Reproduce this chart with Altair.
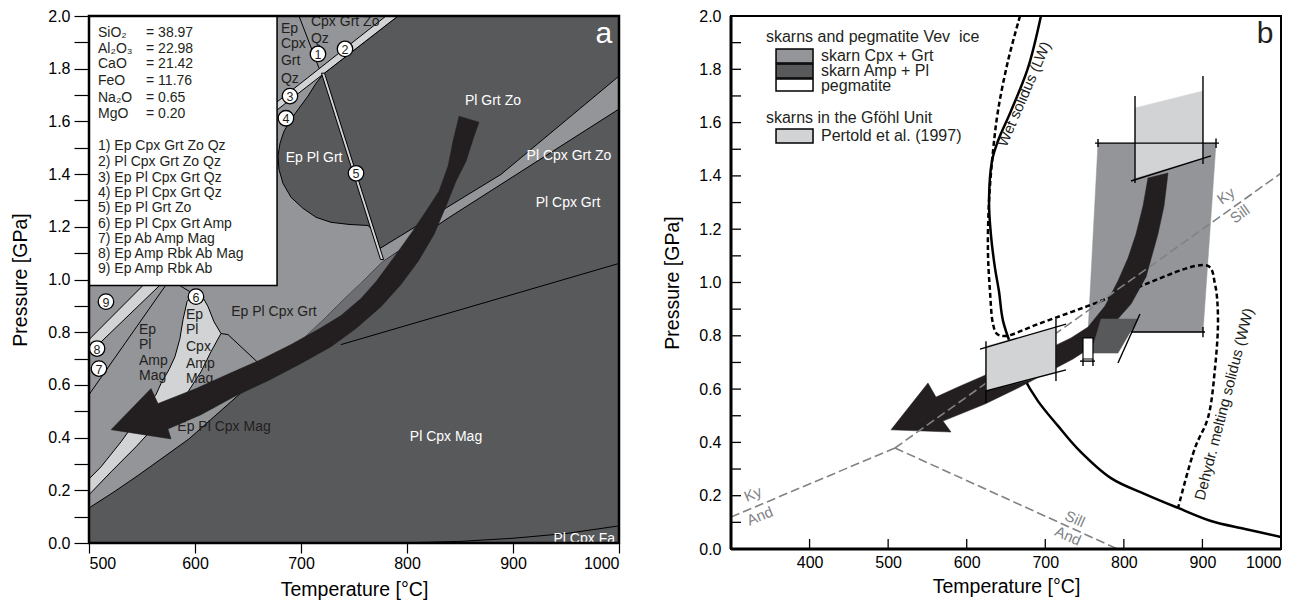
import altair as alt
import pandas as pd

FONT = "Liberation Sans"
DARK = "#58595b"
MED = "#939598"
LIGHT = "#d1d3d4"
STRIP = "#6d6e71"
INK = "#231f20"
GREYLINE = "#808285"

# ================= panel a : phase diagram (T [°C], P [GPa]) =================
a_medium = [(500, 0.133), (523.6, 0.194), (547.2, 0.259), (570.8, 0.327), (594.3, 0.395),
            (617.9, 0.479), (641.5, 0.563), (665.1, 0.650), (688.7, 0.738), (702.8, 0.776),
            (777.4, 1.068), (841.5, 1.240), (1000, 1.647), (1000, 1.772), (888.7, 1.399),
            (774.5, 1.118), (720.8, 1.779), (791.5, 2.0), (500, 2.0)]
a_ep_pl_grt = [(720.8, 1.779), (714.2, 1.745), (706.6, 1.696), (698.1, 1.650), (690.6, 1.608),
               (684, 1.563), (680.2, 1.517), (678.3, 1.468), (679.2, 1.418), (683, 1.365),
               (690.6, 1.312), (701.9, 1.270), (714.2, 1.236), (728.3, 1.217), (745.3, 1.209),
               (763.2, 1.205), (768.9, 1.183)]
a_strip = [(702.8, 0.776), (777.4, 1.068), (799, 1.122), (775.5, 0.954), (737.7, 0.802)]
a_band23 = [(667, 1.641), (780.2, 2.0), (791.5, 2.0), (667, 1.611)]
a_field5 = [(719.3, 1.783), (722.2, 1.783), (777.9, 1.076), (775.0, 1.076)]
a_band8 = [(500, 0.772), (558.5, 1.008), (574.5, 1.008), (500, 0.719)]
a_amp_mag = [(598.1, 0.947), (592.5, 0.916), (588.7, 0.848), (585.8, 0.776), (581.1, 0.707),
             (575.5, 0.658), (567.9, 0.605), (563.2, 0.563), (549.1, 0.490), (530.2, 0.384),
             (511.3, 0.289), (500, 0.243), (500, 0.183), (520.8, 0.270), (544.3, 0.365),
             (567.9, 0.468), (593.4, 0.574), (605.7, 0.650), (615.1, 0.726), (624.5, 0.795),
             (617.9, 0.840), (612.3, 0.897), (607.5, 0.932)]
a_line1 = [(717, 1.802), (698.1, 2.0)]
a_line7 = [(500, 0.563), (573.6, 0.985)]
a_line6 = [(584, 0.981), (598.1, 0.947)]
a_line_eppl = [(624.5, 0.795), (631.1, 0.791), (660.4, 0.681), (667, 0.655)]
a_line_grtmag = [(737.7, 0.753), (1000, 1.061)]
a_line_fa = [(790, 0.0), (850, 0.006), (900, 0.018), (950, 0.036), (1000, 0.065)]
a_arrow = [(849.1, 1.620), (843.4, 1.525), (838.7, 1.430), (830.2, 1.335), (817.9, 1.259),
           (803.8, 1.175), (787.7, 1.084), (770.8, 0.992), (756.6, 0.928), (737.7, 0.863),
           (718.9, 0.817), (690.6, 0.753), (662.3, 0.696), (634, 0.646), (600.9, 0.586),
           (565.1, 0.529), (558.5, 0.586), (520.8, 0.430), (577.4, 0.395), (574.5, 0.433),
           (605.7, 0.487), (636.8, 0.555), (668.9, 0.616), (700, 0.681), (728.3, 0.745),
           (751.9, 0.814), (775.5, 0.897), (794.3, 0.981), (810.4, 1.068), (825.5, 1.171),
           (836.8, 1.278), (846.2, 1.373), (855.7, 1.449), (862.3, 1.532), (867.9, 1.597)]

a_box = {"T0": [500], "T1": [677.4], "P0": [0.977], "P1": [2.0]}
a_box_names = ["SiO₂", "Al₂O₃", "CaO", "FeO", "Na₂O", "MgO"]
a_box_values = ["= 38.97", "= 22.98", "= 21.42", "= 11.76", "= 0.65", "= 0.20"]
a_box_P = [1.935, 1.875, 1.817, 1.753, 1.688, 1.627]
a_key = ["1) Ep Cpx Grt Zo Qz", "2) Pl Cpx Grt Zo Qz", "3) Ep Pl Cpx Grt Qz",
         "4) Ep Pl Cpx Grt Qz", "5) Ep Pl Grt Zo", "6) Ep Pl Cpx Grt Amp",
         "7) Ep Ab Amp Mag", "8) Ep Amp Rbk Ab Mag", "9) Ep Amp Rbk Ab"]
a_key_P = [1.506, 1.445, 1.384, 1.327, 1.270, 1.209, 1.152, 1.095, 1.038]

a_white_lab = ["Pl Grt Zo", "Ep Pl Grt", "Pl Cpx Grt Zo", "Pl Cpx Grt", "Pl Cpx Mag"]
a_white_T = [881.1, 712.3, 952.8, 951.9, 836.8]
a_white_P = [1.677, 1.460, 1.468, 1.289, 0.403]
a_dark_lab = ["Ep Pl Cpx Grt", "Ep Pl Cpx Mag"]
a_dark_T = [674.5, 627.4]
a_dark_P = [0.878, 0.441]
a_stack_lab = ["Ep", "Pl", "Amp", "Mag", "Ep", "Pl", "Cpx", "Amp", "Mag",
               "Ep", "Cpx", "Grt", "Qz", "Cpx Grt Zo", "Qz"]
a_stack_T = [547.2] * 4 + [591.5] * 5 + [681.1] * 4 + [709.4] * 2
a_stack_P = [0.810, 0.753, 0.692, 0.635, 0.867, 0.810, 0.745, 0.681, 0.624,
             1.951, 1.894, 1.829, 1.760, 1.977, 1.913]
a_circ_lab = ["1", "2", "3", "4", "5", "6", "7", "8", "9"]
a_circ_T = [716, 741.5, 689.6, 685.8, 751.9, 600.9, 509.4, 507.6, 516]
a_circ_P = [1.856, 1.875, 1.696, 1.612, 1.403, 0.935, 0.662, 0.738, 0.916]

# ================= panel b =================
b_greybox = [(767.1, 1.523), (917.3, 1.523), (900.7, 0.814), (754.4, 0.814)]
b_lightbox1 = [(814.2, 1.655), (900.7, 1.719), (900.7, 1.467), (814.2, 1.392)]
b_lightbox2 = [(624.5, 0.762), (713.6, 0.829), (713.6, 0.660), (624.5, 0.593)]
b_darkbox = [(770.9, 0.863), (818, 0.863), (792.5, 0.735), (758.2, 0.735)]
b_whitebox = [(748, 0.792), (760.7, 0.792), (760.7, 0.713), (748, 0.713)]
b_box_lines = [
    [(763.3, 1.523), (921.1, 1.523)], [(767.1, 1.508), (767.1, 1.538)], [(917.3, 1.505), (917.3, 1.540)],
    [(809.1, 0.814), (903.3, 0.814)], [(900.7, 0.795), (900.7, 0.833)],
    [(814.2, 1.700), (814.2, 1.373)], [(900.7, 1.775), (900.7, 1.445)], [(809.1, 1.381), (910.9, 1.475)],
    [(616.9, 0.750), (726.4, 0.844)], [(624.5, 0.593), (726.4, 0.672)],
    [(624.5, 0.780), (624.5, 0.548)], [(713.6, 0.863), (713.6, 0.630)],
    [(820.5, 0.882), (792.5, 0.698)],
    [(748, 0.713), (748, 0.687)], [(760.7, 0.713), (760.7, 0.687)], [(744.2, 0.705), (763.3, 0.705)],
]
b_wet = [(694.5, 2.0), (678, 1.805), (656.4, 1.644), (639.8, 1.531), (632.2, 1.456), (628.4, 1.306),
         (630.8, 1.180), (636, 1.054), (641, 0.968), (646.2, 0.856), (659, 0.743), (671.6, 0.649),
         (690.7, 0.555), (716.2, 0.462), (741.6, 0.375), (783.6, 0.266), (826.9, 0.206),
         (869, 0.154), (910.9, 0.105), (954.2, 0.075), (1000, 0.045)]
b_dashed = [(667.8, 2.0), (652.5, 1.831), (639.8, 1.644), (633.5, 1.493), (628.4, 1.306),
            (627, 1.118), (629.6, 0.968), (633.5, 0.844), (638.5, 0.807), (648.7, 0.799),
            (690.7, 0.844), (754.4, 0.912), (814.2, 0.979), (907, 1.062), (916, 0.994),
            (919.8, 0.867), (916, 0.679), (907, 0.492), (890.5, 0.379), (869, 0.154)]
b_ky_and = [(300, 0.12), (508.7, 0.379)]
b_and_sill = [(508.7, 0.379), (792, 0.0)]
b_ky_sill = [(508.7, 0.379), (1000, 1.41)]
b_arrow = [(830.7, 1.392), (824.4, 1.287), (815.5, 1.182), (805.3, 1.092), (792.5, 1.006),
           (776, 0.912), (754.4, 0.833), (732.7, 0.792), (713.6, 0.765), (665.3, 0.713),
           (627.1, 0.657), (588.9, 0.608), (560.9, 0.570), (550.7, 0.623), (503.6, 0.447),
           (580, 0.439), (569.8, 0.480), (623.3, 0.544), (665.3, 0.604), (713.6, 0.679),
           (735.3, 0.713), (756.9, 0.754), (773.5, 0.799), (790, 0.856), (809.1, 0.919),
           (828.2, 1.021), (843.4, 1.182), (851.1, 1.287), (856.2, 1.411)]
b_sw_P0 = [1.824, 1.767, 1.719, 1.523]
b_sw_P1 = [1.876, 1.820, 1.764, 1.576]
b_sw_fill = [MED, DARK, "white", LIGHT]
b_sw_T = (357.3, 404.4)
b_leg_head = ["skarns and pegmatite Vev\u00a0\u00a0ice", "skarns in the Gföhl Unit"]
b_leg_head_P = [1.921, 1.617]
b_leg_item = ["skarn Cpx + Grt", "skarn Amp + Pl", "pegmatite", "Pertold et al. (1997)"]
b_leg_item_P = [1.850, 1.794, 1.737, 1.550]
b_rot_lab = ["Wet solidus (LW)", "Dehydr. melting solidus (WW)"]
b_rot_T = [672.9, 927.5]
b_rot_P = [1.707, 0.544]
b_rot_ang = [293.4, 284.4]
b_al_lab = ["Ky", "And", "Ky", "Sill", "Sill", "And"]
b_al_T = [328, 336.9, 930, 947.8, 737.8, 728.9]
b_al_P = [0.206, 0.124, 1.325, 1.257, 0.113, 0.049]
b_al_ang = [337.3, 337.3, 324.1, 324.1, 24, 24]

yticks = [round(0.1 * k, 1) for k in range(0, 21)]
a_xticks = [500, 600, 700, 800, 900, 1000]
b_xlabels = [400, 500, 600, 700, 800, 900, 1000]
b_xinner = [400, 500, 600, 700, 800, 900]
b_yinner = [round(0.1 * k, 1) for k in range(1, 20)]

WA, HA = 530, 527
WB, HB = 550, 533

LABEL_EXPR = "round(datum.value*10) % 2 == 0 ? format(datum.value, '.1f') : ''"

PA = dict(
    sx=alt.Scale(domain=[500, 1000], nice=False, zero=False),
    sy=alt.Scale(domain=[0, 2], nice=False, zero=False),
    ax=alt.Axis(title="Temperature [°C]", values=a_xticks, tickSize=10, labelPadding=2,
                titlePadding=9, format="d", titleFontWeight=400),
    ay=alt.Axis(title="Pressure [GPa]", values=yticks, tickSize=15, labelPadding=4,
                titlePadding=17, labelExpr=LABEL_EXPR, titleFontWeight=400),
)
PB = dict(
    sx=alt.Scale(domain=[300, 1000], nice=False, zero=False),
    sy=alt.Scale(domain=[0, 2], nice=False, zero=False),
    ax=alt.Axis(title="Temperature [°C]", values=b_xlabels, ticks=False, labelPadding=5,
                titlePadding=7, format="d", titleFontWeight=400),
    ay=alt.Axis(title="Pressure [GPa]", values=yticks, ticks=False, labelPadding=10,
                titlePadding=16, labelExpr=LABEL_EXPR, titleFontWeight=400),
)


def frame_of(list_of_pts):
    rows = []
    for g, pts in enumerate(list_of_pts):
        for i, (t, p) in enumerate(pts):
            rows.append({"T": t, "P": p, "i": i, "g": g})
    return pd.DataFrame(rows)


def X(pn, f="T"):
    return alt.X(f + ":Q", scale=pn["sx"], axis=pn["ax"])


def Y(pn, f="P"):
    return alt.Y(f + ":Q", scale=pn["sy"], axis=pn["ay"])


def polys(list_of_pts, pn, fill, stroke, sw):
    return alt.Chart(frame_of(list_of_pts)).mark_line(
        fill=fill, stroke=stroke, strokeWidth=sw, interpolate="linear-closed", clip=True
    ).encode(x=X(pn), y=Y(pn), order="i:Q", detail="g:N")


def lines(list_of_pts, pn, color, sw, dash=None, interp="linear"):
    kw = dict(color=color, strokeWidth=sw, clip=True, interpolate=interp)
    if dash:
        kw["strokeDash"] = dash
    return alt.Chart(frame_of(list_of_pts)).mark_line(**kw).encode(
        x=X(pn), y=Y(pn), order="i:Q", detail="g:N")


def texts(labels, ts, ps, pn, **mk):
    df = pd.DataFrame({"T": ts, "P": ps, "s": labels})
    return alt.Chart(df).mark_text(font=FONT, **mk).encode(x=X(pn), y=Y(pn), text="s:N")


def rects(d, pn, **mk):
    return alt.Chart(pd.DataFrame(d)).mark_rect(**mk).encode(
        x=X(pn, "T0"), x2="T1:Q", y=Y(pn, "P0"), y2="P1:Q")


# ---------- panel a ----------
a_full = {"T0": [500], "T1": [1000], "P0": [0], "P1": [2]}
a_layers = [
    rects(a_full, PA, color=DARK),
    polys([a_medium], PA, MED, "black", 1),
    polys([a_ep_pl_grt], PA, DARK, "black", 1),
    polys([a_strip], PA, STRIP, STRIP, 0.5),
    polys([a_band23, a_field5, a_band8, a_amp_mag], PA, LIGHT, "black", 1),
    lines([a_line1, a_line7, a_line6, a_line_eppl, a_line_grtmag, a_line_fa], PA, "black", 1),
    polys([a_arrow], PA, INK, INK, 0.5),
    rects(a_box, PA, fill="white", stroke="black", strokeWidth=1.5),
    texts(a_box_names, [508.5] * 6, a_box_P, PA, fontSize=14, align="left", baseline="middle", color=INK),
    texts(a_box_values, [553.8] * 6, a_box_P, PA, fontSize=14, align="left", baseline="middle", color=INK),
    texts(a_key, [508.5] * 9, a_key_P, PA, fontSize=14, align="left", baseline="middle", color=INK),
    texts(a_white_lab, a_white_T, a_white_P, PA, fontSize=14, align="center", baseline="middle", color="white"),
    texts(["Pl Cpx Fa"], [996.2], [0.015], PA, fontSize=14, align="right", baseline="middle", color="white"),
    texts(a_dark_lab, a_dark_T, a_dark_P, PA, fontSize=14, align="center", baseline="middle", color=INK),
    texts(a_stack_lab, a_stack_T, a_stack_P, PA, fontSize=14, align="left", baseline="middle", color=INK),
    alt.Chart(pd.DataFrame({"T": a_circ_T, "P": a_circ_P})).mark_circle(
        size=240, color="white", stroke="black", strokeWidth=1.3, opacity=1).encode(x=X(PA), y=Y(PA)),
    texts(a_circ_lab, a_circ_T, a_circ_P, PA, fontSize=12.5, align="center", baseline="middle", color=INK, dy=1),
    texts(["a"], [985.8], [1.932], PA, fontSize=30, align="center", baseline="middle", color="white"),
    rects(a_full, PA, filled=False, stroke="black", strokeWidth=2.5),
]
panel_a = alt.layer(*a_layers).properties(width=WA, height=HA)

# ---------- panel b ----------
b_full = {"T0": [300], "T1": [1000], "P0": [0], "P1": [2]}
sw_df = pd.DataFrame({"T0": [b_sw_T[0]] * 4, "T1": [b_sw_T[1]] * 4, "P0": b_sw_P0, "P1": b_sw_P1, "f": b_sw_fill})

b_layers = [
    rects(b_full, PB, color="white"),
    polys([b_greybox], PB, MED, MED, 0.5),
    lines([b_dashed], PB, "black", 2.5, dash=[5, 3], interp="catmull-rom"),
    lines([b_wet], PB, "black", 2.5, interp="catmull-rom"),
    polys([b_arrow], PB, INK, INK, 0.5),
    lines([b_ky_and, b_and_sill, b_ky_sill], PB, GREYLINE, 1.6, dash=[9, 4]),
    polys([b_darkbox], PB, DARK, DARK, 0.5),
    polys([b_whitebox], PB, "white", "black", 1.2),
    polys([b_lightbox1, b_lightbox2], PB, LIGHT, LIGHT, 0.5),
    lines(b_box_lines, PB, "black", 1.4),
    alt.Chart(sw_df).mark_rect(stroke="black", strokeWidth=1.5).encode(
        x=X(PB, "T0"), x2="T1:Q", y=Y(PB, "P0"), y2="P1:Q",
        fill=alt.Fill("f:N", scale=None)),
    texts(b_leg_head, [344.5] * 2, b_leg_head_P, PB, fontSize=16, align="left", baseline="middle", color=INK),
    texts(b_leg_item, [414.5] * 4, b_leg_item_P, PB, fontSize=16, align="left", baseline="middle", color=INK),
    alt.Chart(pd.DataFrame({"T": b_rot_T, "P": b_rot_P, "s": b_rot_lab, "a": b_rot_ang})).mark_text(
        font=FONT, fontSize=15, align="center", baseline="middle", color=INK).encode(
        x=X(PB), y=Y(PB), text="s:N", angle=alt.Angle("a:Q", scale=None)),
    alt.Chart(pd.DataFrame({"T": b_al_T, "P": b_al_P, "s": b_al_lab, "a": b_al_ang})).mark_text(
        font=FONT, fontSize=15, align="center", baseline="middle", color=GREYLINE).encode(
        x=X(PB), y=Y(PB), text="s:N", angle=alt.Angle("a:Q", scale=None)),
    texts(["b"], [979.6], [1.932], PB, fontSize=30, align="center", baseline="middle", color=INK),
    alt.Chart(pd.DataFrame({"P": b_yinner})).mark_rule(color="black", strokeWidth=1.3).encode(
        y=Y(PB), x=alt.value(0), x2=alt.value(10)),
    alt.Chart(pd.DataFrame({"T": b_xinner})).mark_rule(color="black", strokeWidth=1.3).encode(
        x=X(PB), y=alt.value(HB), y2=alt.value(HB - 10)),
    rects(b_full, PB, filled=False, stroke="black", strokeWidth=2),
    alt.Chart(pd.DataFrame({"P": [0]})).mark_rule(color="black", strokeWidth=3).encode(
        y=Y(PB), x=alt.value(0), x2=alt.value(WB)),
    alt.Chart(pd.DataFrame({"T": [300]})).mark_rule(color="black", strokeWidth=3).encode(
        x=X(PB), y=alt.value(0), y2=alt.value(HB)),
]
panel_b = alt.layer(*b_layers).properties(width=WB, height=HB)

chart = alt.hconcat(panel_a, panel_b, spacing=41).properties(
    padding={"left": 2, "top": 0, "right": 5, "bottom": 5}
).configure_axis(
    labelFont=FONT, titleFont=FONT, labelFontSize=16, titleFontSize=19.5, titleFontWeight="normal",
    labelColor="black", titleColor="black", tickColor="black", tickWidth=1.2, domain=False, grid=False
).configure_view(strokeWidth=0)

chart.save("out.html", embed_options={"renderer": "svg", "actions": False})
